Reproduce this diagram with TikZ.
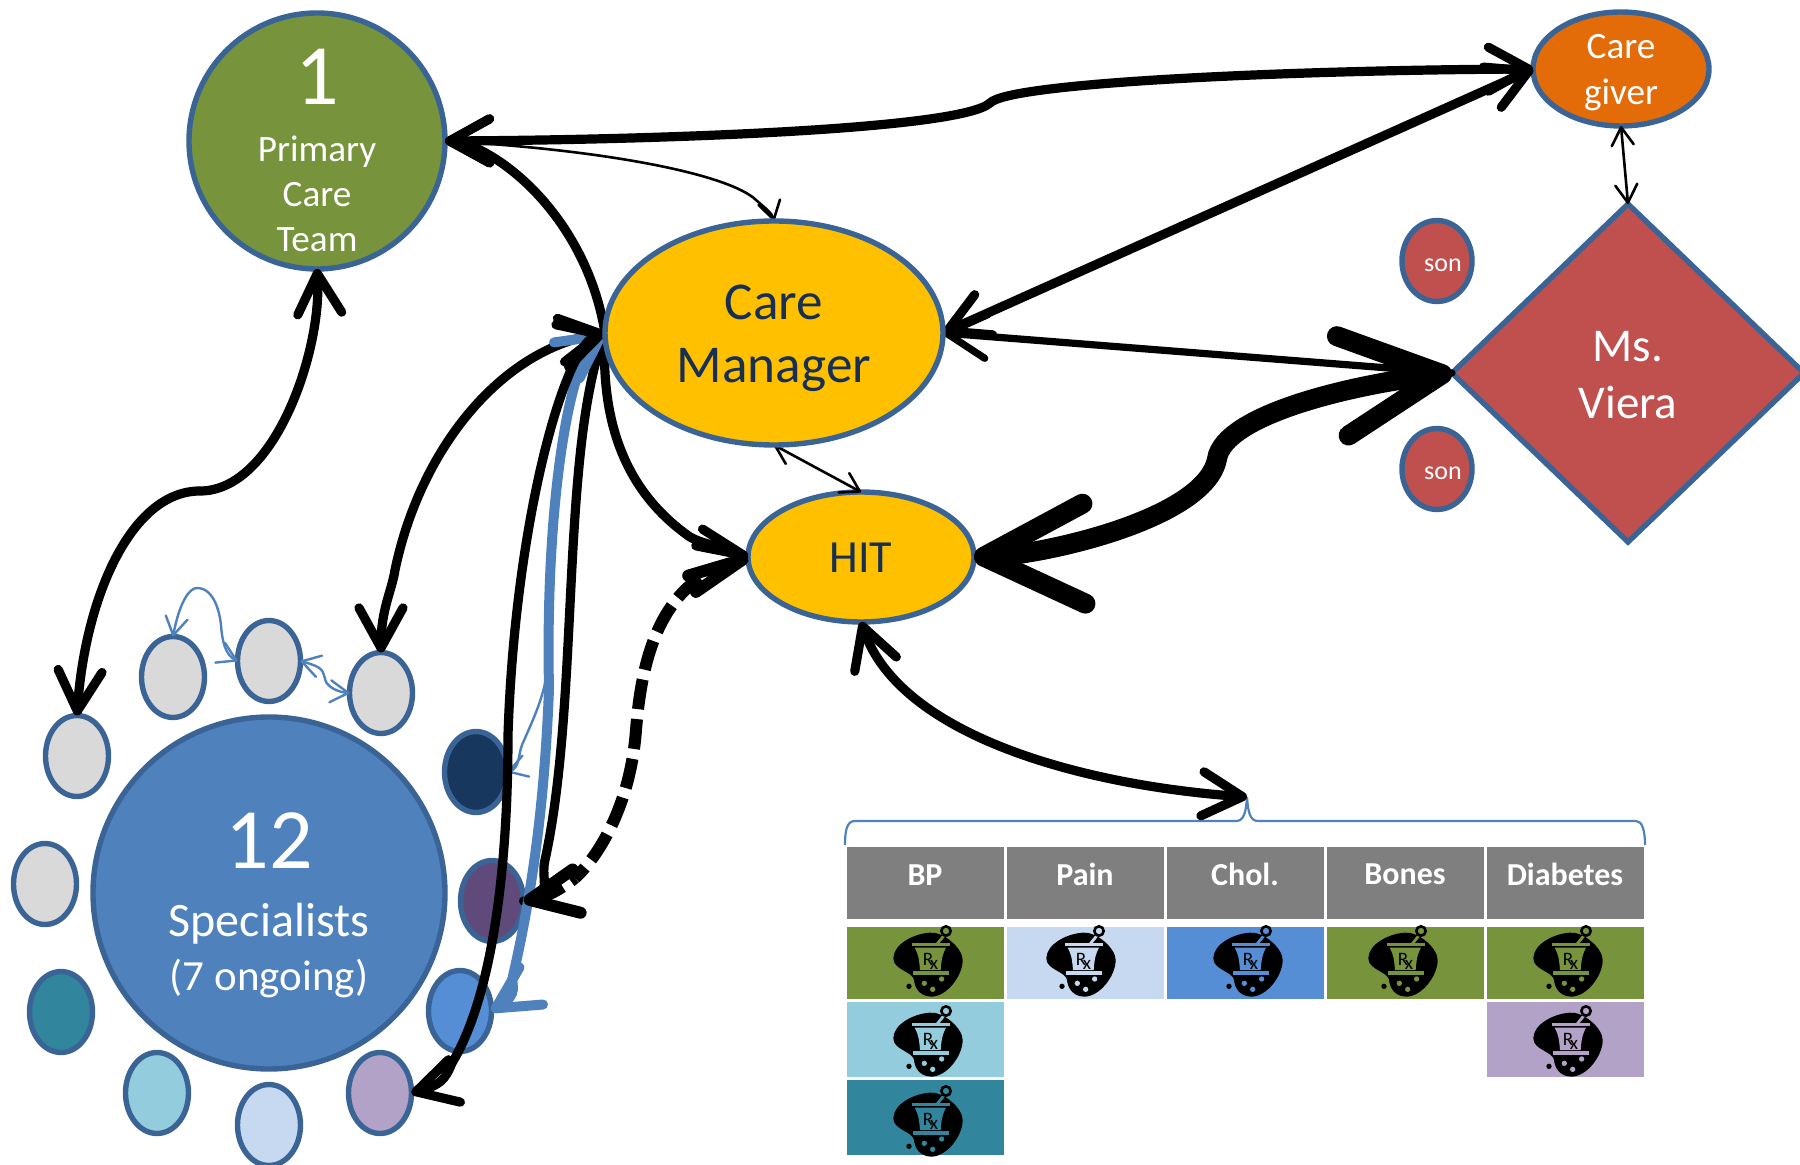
\documentclass[tikz,border=0pt]{standalone}
\usepackage{fontspec}
\setmainfont{Carlito}
\usetikzlibrary{arrows.meta,shapes.geometric}
\pgfdeclarelayer{front}
\pgfsetlayers{main,front}
\definecolor{bord}{HTML}{3B6496}
\definecolor{cgreen}{HTML}{77933C}
\definecolor{cblue}{HTML}{4F81BD}
\definecolor{corange}{HTML}{E36C09}
\definecolor{cred}{HTML}{C0504D}
\definecolor{cyellow}{HTML}{FFC000}
\definecolor{cgray}{HTML}{D9D9D9}
\definecolor{cdark}{HTML}{17375E}
\definecolor{cteal}{HTML}{31859C}
\definecolor{clight}{HTML}{93CDDD}
\definecolor{cpale}{HTML}{C6D9F1}
\definecolor{clilac}{HTML}{B3A2C7}
\definecolor{cpurple}{HTML}{604A7B}
\definecolor{cmid}{HTML}{558ED5}
\definecolor{chead}{HTML}{7F7F7F}
\definecolor{cnavy}{HTML}{172F52}
\newsavebox{\dropsave}
\newcommand{\dropbox}[2]{\sbox{\dropsave}{\begin{tabular}{@{}c@{}}#2\end{tabular}}\raisebox{\dimexpr-#1-.5\ht\dropsave+.5\dp\dropsave\relax}[0pt][0pt]{\usebox{\dropsave}}}
\newcommand{\shiftv}[2]{\raisebox{#1}[\height][\depth]{#2}}
\tikzset{
  shapebase/.style={draw=bord,line width=2.7pt,inner sep=0pt,outer sep=0pt,align=center},
  oval/.style={shapebase,ellipse,minimum width=#1},
  smalloval/.style={shapebase,ellipse,minimum width=31.5pt,minimum height=40.5pt},
  heavy/.style={line width=4.6pt,line cap=round,>={Straight Barb[length=20pt,width=22pt,round]}},
  medium/.style={line width=3.6pt,line cap=round,>={Straight Barb[length=20pt,width=22pt,round]}},
  huge/.style={line width=10pt,line cap=round,>={Straight Barb[length=50pt,width=50pt,round]}},
  dashline/.style={line width=6pt,dash pattern=on 15pt off 5pt,>={Straight Barb[length=24pt,width=22pt,round]}},
  thinblack/.style={line width=1.3pt,>={Straight Barb[length=9pt,width=11pt,round]}},
  thickblue/.style={draw=cblue,line width=5pt,line cap=round,>={Straight Barb[length=21pt,width=22pt,round]}},
  thinblue/.style={draw=cblue,line width=1.2pt,>={Straight Barb[length=9pt,width=11pt,round]}},
  bracket/.style={draw=cblue,line width=1.1pt},
  headcell/.style={fill=chead,inner sep=0pt,outer sep=0pt,minimum width=78.5pt,minimum height=36pt,text=white,font=\fontsize{16}{18}\selectfont\bfseries},
  rowcell/.style={inner sep=0pt,outer sep=0pt,minimum width=78.5pt},
  rxletter/.style={inner sep=0pt,text=black,font=\fontsize{9.5}{10}\selectfont},
}
\newcommand{\rxicon}[4]{%
  \begin{scope}[shift={(#1,#2)},scale=1/3]
    \fill[black] (6,-91) .. controls (45,-95) and (104,-45) .. (104,-9)
      .. controls (104,40) and (55,101) .. (10,101)
      .. controls (-25,100) and (-40,75) .. (-42,50)
      .. controls (-48,25) and (-104,20) .. (-104,-14)
      .. controls (-104,-55) and (-45,-88) .. (6,-91) -- cycle;
    \fill[black] (-57,70) circle (8);
    \draw[#3,line width=1.4pt] (46,-80) -- (28,-58);
    \filldraw[fill=#3,draw=black,line width=1.3pt] (54,-96) circle (14);
    \fill[#3] (-49,-61) rectangle (66,-51);
    \fill[#3] (-40,-46) -- (54,-46) .. controls (40,-20) and (40,0) .. (38,21) -- (-24,21) .. controls (-26,0) and (-26,-20) .. (-40,-46) -- cycle;
    \fill[#3] (-46,24) rectangle (62,36);
    \fill[#3] (-11,61) circle (8);
    \fill[#3] (41,48) circle (8);
    \fill[#3] (14,79) circle (8);
    \node[rxletter] (rxa#4) at (0,-12) {R};
    \node[rxletter] (rxb#4) at (18,5) {x};
  \end{scope}}
\begin{document}
\begin{tikzpicture}[x=0.5pt,y=-0.5pt]
\useasboundingbox (0,0) rectangle (1800,1165);
% main shapes
\node[shapebase,circle,fill=cgreen,minimum size=128pt,text=white,font=\fontsize{18.6}{22.5}\selectfont] (pc) at (317,141)
  {\dropbox{8pt}{{\fontsize{43}{46}\selectfont 1}\\[6pt]Primary\\Care\\Team}};
\begin{pgfonlayer}{front}
\node[oval=169pt,minimum height=112pt,fill=cyellow,text=cnavy,font=\fontsize{26.6}{31.5}\selectfont] (cm) at (774,333) {\dropbox{2.9pt}{Care\\Manager}};
\end{pgfonlayer}
\node[oval=113pt,minimum height=65pt,fill=cyellow,text=cnavy,font=\fontsize{23}{26}\selectfont] (hit) at (861,557) {\shiftv{-0.5pt}{HIT}};
\node[oval=88pt,minimum height=57pt,fill=corange,text=white,font=\fontsize{18.6}{23}\selectfont] (cg) at (1621,69) {\dropbox{1.7pt}{Care\\giver}};
\node[shapebase,diamond,shape aspect=1.04,fill=cred,minimum width=176pt,minimum height=169pt,text=white,font=\fontsize{23.5}{28.5}\selectfont] (mv) at (1628,373) {\dropbox{3pt}{Ms.\\Viera}};
\node[smalloval,fill=cred,text=white,font=\fontsize{13}{15}\selectfont] (son1) at (1437,261) {\shiftv{-2.3pt}{\hspace*{6pt}son}};
\node[smalloval,fill=cred,text=white,font=\fontsize{13}{15}\selectfont] (son2) at (1437,469) {\shiftv{-2.3pt}{\hspace*{6pt}son}};
\node[shapebase,circle,fill=cblue,minimum size=176pt,text=white,font=\fontsize{24}{26}\selectfont] (sp) at (269,893)
  {\dropbox{8pt}{{\fontsize{43}{46}\selectfont 12}\\[8pt]Specialists\\[1pt]{\fontsize{21.5}{26}\selectfont (7 ongoing)}}};
% ring of small ovals
\node[smalloval,fill=cgray] (e1) at (173,677) {};
\node[smalloval,fill=cgray] (e2) at (269,661) {};
\node[smalloval,fill=cgray] (e3) at (381,693) {};
\node[smalloval,fill=cgray] (e4) at (77,756) {};
\node[smalloval,fill=cgray] (e5) at (45,884) {};
\node[smalloval,fill=cteal] (e6) at (61,1012) {};
\node[smalloval,fill=clight] (e7) at (157,1093) {};
\node[smalloval,fill=cpale] (e8) at (269,1125) {};
\node[smalloval,fill=clilac] (e9) at (380,1093) {};
\node[smalloval,fill=cmid] (e10) at (460,1011) {};
\node[smalloval,fill=cpurple] (e11) at (492,901) {};
\node[smalloval,fill=cdark] (e12) at (476,772) {};
% table
\foreach \n/\t/\x in {h1/BP/925,h2/Pain/1085,h3/Chol./1245,h4/Bones/1405,h5/Diabetes/1565}
  \node[headcell] (\n) at (\x,882.5) {\shiftv{3.9pt}{\t}};
\node[rowcell,fill=cgreen,minimum height=36pt] (r11) at (925,963) {};
\node[rowcell,fill=cpale,minimum height=36pt] (r12) at (1085,963) {};
\node[rowcell,fill=cmid,minimum height=36pt] (r13) at (1245,963) {};
\node[rowcell,fill=cgreen,minimum height=36pt] (r14) at (1405,963) {};
\node[rowcell,fill=cgreen,minimum height=36pt] (r15) at (1565,963) {};
\node[rowcell,fill=clight,minimum height=37.5pt] (r21) at (925,1039.5) {};
\node[rowcell,fill=clilac,minimum height=37.5pt] (r25) at (1565,1039.5) {};
\node[rowcell,fill=cteal,minimum height=37.5pt] (r31) at (925,1117.5) {};
\rxicon{928}{963}{cgreen}{a}
\rxicon{1081}{963}{cpale}{b}
\rxicon{1248}{963}{cmid}{c}
\rxicon{1403}{963}{cgreen}{d}
\rxicon{1568}{963}{cgreen}{e}
\rxicon{928}{1043}{clight}{f}
\rxicon{1568}{1043}{clilac}{g}
\rxicon{928}{1123}{cteal}{h}
% brace
\coordinate (brtip) at (1247,797);
\draw[bracket] (845,845) .. controls (845,830) and (847,821) .. (855,821)
  -- (1236,821) .. controls (1244,821) and (1246,812) .. (brtip)
  .. controls (1248,812) and (1250,821) .. (1258,821)
  -- (1636,821) .. controls (1642,821) and (1645,830) .. (1645,845);
% connectors
\draw[heavy,<->] (pc.east) .. controls (650,140) and (960,130) .. (990,103)
   .. controls (1010,82) and (1300,70) .. (cg.west);
\draw[heavy,->] (cm.west) .. controls (590,240) and (530,175) .. (480,150)
   .. controls (470,146) and (460,141) .. (pc.east);
\draw[heavy,>={Straight Barb[length=24pt,width=9pt,round]},->] (cm.west) .. controls (600,430) and (630,495) .. (690,537)
   .. controls (705,545) and (718,545) .. (hit.west);
\draw[heavy,<->] (cm.west) .. controls (500,350) and (420,450) .. (395,570)
   .. controls (392,590) and (381,610) .. (e3.north);
\draw[heavy,-] (cm.west) .. controls (560,450) and (580,700) .. (545,860)
   .. controls (540,880) and (555,898) .. (e11.east);
\draw[thinblue,<-] (e12.east) .. controls (520,768) and (518,755) .. (522,745)
   .. controls (535,715) and (548,690) .. (549,650)
   .. controls (552,500) and (545,430) .. (cm.west);
\draw[thickblue,<->] (cm.west) .. controls (570,358) and (545,500) .. (549,689)
   .. controls (545,790) and (535,880) .. (513,976)
   .. controls (510,985) and (520,993) .. (e10.east);
\draw[heavy,<->] (cm.west) .. controls (565,345) and (515,520) .. (508,735)
   .. controls (508,880) and (490,1000) .. (452,1063)
   .. controls (445,1080) and (440,1085) .. (e9.east);
\draw[dashline,>={Straight Barb[length=28pt,width=9pt,round]},<-] (hit.west) .. controls (725,568) and (700,575) .. (685,590)
   .. controls (650,625) and (640,680) .. (636,730)
   .. controls (630,810) and (595,860) .. (575,878);
\draw[dashline,<-] (e11.east) .. controls (545,897) and (560,890) .. (575,878);
\draw[heavy,<->] (pc.south) .. controls (322,350) and (275,491) .. (200,491)
   .. controls (130,491) and (85,600) .. (e4.north);
\draw[heavy,<->] (cm.east) -- (cg.west);
\draw[medium,<-] (cm.east) -- (mv.west);
\draw[huge,<->] (hit.east) .. controls (1040,555) and (1205,520) .. (1217,459)
   .. controls (1224,415) and (1350,385) .. (mv.west);
\draw[thinblack,<->] (cm.south) -- (hit.north);
\draw[thinblack,->] (pc.east) .. controls (610,150) and (730,175) .. (756,200)
   .. controls (765,208) and (772,213) .. (cm.north);
\draw[thinblack,<->] (cg.south) -- (mv.north);
\draw[heavy,<->] (hit.south) .. controls (900,735) and (1080,785) .. (brtip);
\draw[thinblue,<->] (e1.north) .. controls (180,600) and (190,588) .. (197,588)
   .. controls (215,588) and (220,615) .. (221,625)
   .. controls (222,640) and (225,655) .. (e2.west);
\draw[thinblue,<->] (e2.east) .. controls (325,668) and (322,670) .. (326,682)
   .. controls (330,688) and (338,692) .. (e3.west);
\end{tikzpicture}
\end{document}
